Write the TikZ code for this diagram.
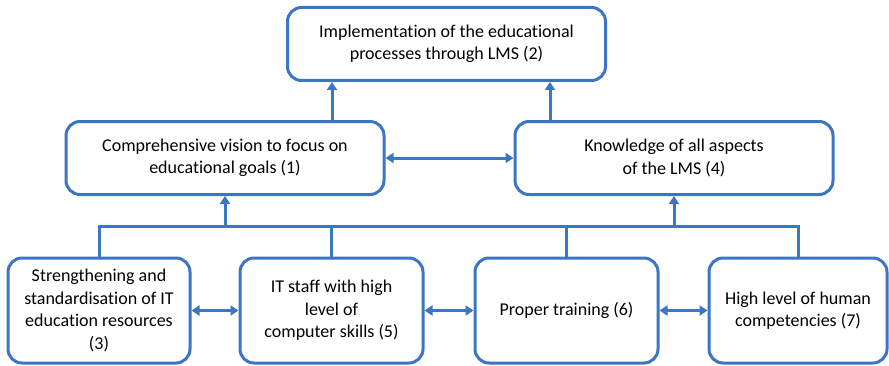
\documentclass[tikz,border=0pt]{standalone}
\usepackage{fontspec}
\setmainfont[Ligatures=NoCommon]{Carlito}
\usetikzlibrary{arrows.meta}
\definecolor{lmsblue}{RGB}{59,117,196}
\tikzset{
  box/.style={draw=lmsblue, line width=3pt, rounded corners=14pt, fill=white,
    align=center, font=\fontsize{18}{22.5}\selectfont, inner sep=4pt},
  conn/.style={draw=lmsblue, line width=3pt},
  arr/.style={conn, -{Triangle[width=10pt,length=8pt]}},
  dbl/.style={conn, {Triangle[width=10pt,length=8pt]}-{Triangle[width=10pt,length=8pt]}}
}
\begin{document}
\begin{tikzpicture}[x=1pt,y=1pt]
  \useasboundingbox (0,0) rectangle (889,365);
  % top level
  \node[box, minimum width=318pt, minimum height=73pt] (impl) at (446.5,321)
    {Implementation of the educational\\processes through LMS (2)};
  % middle level
  \node[box, minimum width=318pt, minimum height=73pt] (vision) at (225,207)
    {Comprehensive vision to focus on\\educational goals (1)};
  \node[box, minimum width=318pt, minimum height=73pt] (know) at (674,207)
    {Knowledge of all aspects\\of the LMS (4)};
  % bottom level
  \node[box, minimum width=182pt, minimum height=105pt] (resources) at (99,54.5)
    {Strengthening and\\standardisation of IT\\education resources\\(3)};
  \node[box, minimum width=183pt, minimum height=105pt] (staff) at (331.5,54.5)
    {IT staff with high\\level of\\computer skills (5)};
  \node[box, minimum width=183pt, minimum height=105pt] (training) at (566.5,54.5)
    {Proper training (6)};
  \node[box, minimum width=178pt, minimum height=105pt] (human) at (798,54.5)
    {High level of human\\competencies (7)};
  \coordinate (bus) at (0,139);
  % bus from the bottom row
  \draw[conn] (resources.north) -- (resources.north |- bus) -| (human.north);
  \draw[conn] (staff.north) -- (staff.north |- bus);
  \draw[conn] (training.north) -- (training.north |- bus);
  \draw[arr] (vision.south |- bus) -- (vision.south);
  \draw[arr] (know.south |- bus) -- (know.south);
  % up to the top
  \draw[arr] ([xshift=107pt]vision.north) -- ([xshift=107pt]vision.north |- impl.south);
  \draw[arr] ([xshift=-124pt]know.north) -- ([xshift=-124pt]know.north |- impl.south);
  % both ways
  \draw[dbl] (vision.east) -- (know.west);
  \draw[dbl] (resources.east) -- (staff.west);
  \draw[dbl] (staff.east) -- (training.west);
  \draw[dbl] (training.east) -- (human.west);
\end{tikzpicture}
\end{document}
